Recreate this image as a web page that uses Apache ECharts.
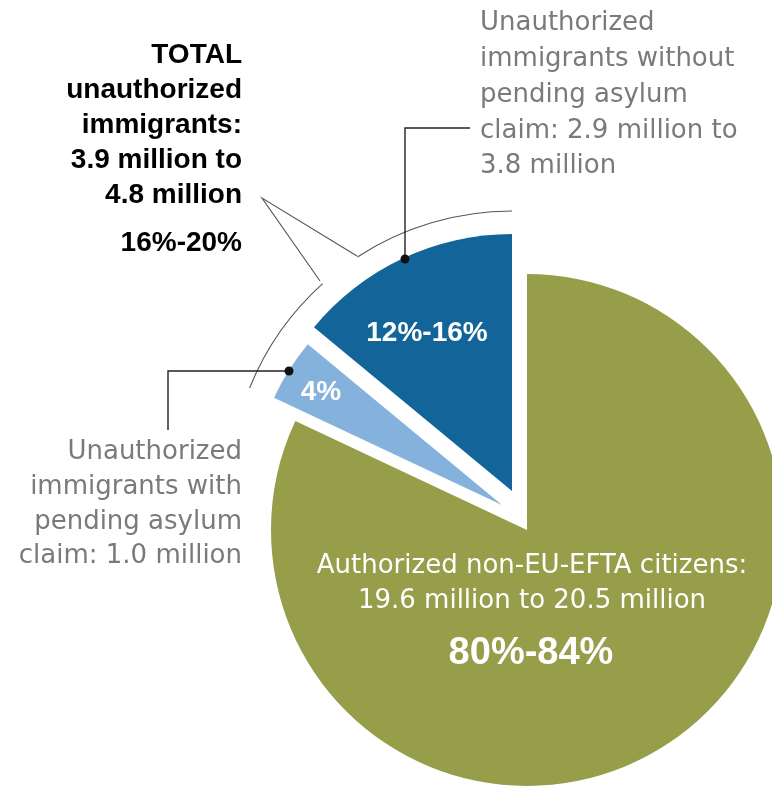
<!DOCTYPE html>
<html><head><meta charset="utf-8">
<script src="https://cdn.jsdelivr.net/npm/echarts@6/dist/echarts.min.js"></script>
<style>html,body{margin:0;padding:0;background:#fff}#c{width:772px;height:787px}</style>
</head><body><div id="c"></div>
<script>
// ---- data ----
const categories = ['Authorized non-EU-EFTA citizens', 'Unauthorized immigrants with pending asylum claim', 'Unauthorized immigrants without pending asylum claim'];
const shareMidpoints = [82, 4, 14];           // midpoints of 80%-84%, 4%, 12%-16%
const shareLabels = ['80%-84%', '4%', '12%-16%'];
const totalShareLabel = '16%-20%';
const authorizedLines = ['Authorized non-EU-EFTA citizens:', '19.6 million to 20.5 million'];
const withAsylumLines = ['Unauthorized', 'immigrants with', 'pending asylum', 'claim: 1.0 million'];
const withoutAsylumLines = ['Unauthorized', 'immigrants without', 'pending asylum', 'claim: 2.9 million to', '3.8 million'];
const totalLines = ['TOTAL', 'unauthorized', 'immigrants:', '3.9 million to', '4.8 million'];

// ---- style ----
const colors = ['#969E4A', '#85B2DD', '#136599'];
const pieCenters = [[527, 530], [502, 505], [512, 491]];
const pieRadii = [256, 252, 257];
const GRAY = '#7a7a7a';
const REG = '"DejaVu Sans", sans-serif';
const BOLD = '"Liberation Sans", Arial, sans-serif';

const series = colors.map((col, i) => ({
  type: 'pie',
  center: pieCenters[i],
  radius: pieRadii[i],
  startAngle: 90,
  clockwise: true,
  silent: true,
  animation: false,
  z: 2,
  label: { show: false },
  labelLine: { show: false },
  emphasis: { disabled: true },
  itemStyle: { borderWidth: 0 },
  data: categories.map((c, j) => ({
    name: c,
    value: shareMidpoints[j],
    itemStyle: { color: j === i ? col : 'rgba(0,0,0,0)' }
  }))
}));

const graphic = [];
function block(lines, x, y0, lh, font, fill, align) {
  lines.forEach((t, k) => graphic.push({
    type: 'text', silent: true, z: 100,
    style: { text: t, x: x, y: y0 + k * lh, font: font, fill: fill, textAlign: align, textVerticalAlign: 'middle' }
  }));
}
const rad = d => d * Math.PI / 180;
// bracket arc around unauthorized slices
const arcC = [512, 494], arcR = 283;
graphic.push({ type: 'arc', silent: true, z: 100, shape: { cx: arcC[0], cy: arcC[1], r: arcR, startAngle: rad(-123.1), endAngle: rad(-90) }, style: { fill: 'none', stroke: '#555', lineWidth: 1.1 } });
graphic.push({ type: 'arc', silent: true, z: 100, shape: { cx: arcC[0], cy: arcC[1], r: arcR, startAngle: rad(-158), endAngle: rad(-132) }, style: { fill: 'none', stroke: '#555', lineWidth: 1.1 } });
graphic.push({ type: 'polyline', silent: true, z: 100, shape: { points: [[357, 256], [262, 198], [320, 281]] }, style: { fill: 'none', stroke: '#555', lineWidth: 1.1 } });
// leader lines
graphic.push({ type: 'polyline', silent: true, z: 100, shape: { points: [[470, 128], [405, 128], [405, 259]] }, style: { fill: 'none', stroke: '#222', lineWidth: 1.4 } });
graphic.push({ type: 'circle', silent: true, z: 101, shape: { cx: 405, cy: 259, r: 4.5 }, style: { fill: '#111' } });
graphic.push({ type: 'polyline', silent: true, z: 100, shape: { points: [[289, 371], [168, 371], [168, 430]] }, style: { fill: 'none', stroke: '#222', lineWidth: 1.4 } });
graphic.push({ type: 'circle', silent: true, z: 101, shape: { cx: 289, cy: 371, r: 4.5 }, style: { fill: '#111' } });

// texts
block(totalLines, 242, 55, 35, 'bold 28px ' + BOLD, '#000', 'right');
block([totalShareLabel], 242, 243, 35, 'bold 28px ' + BOLD, '#000', 'right');
block(withoutAsylumLines, 480, 23.5, 35.8, '26px ' + REG, GRAY, 'left');
block(withAsylumLines, 242, 452.5, 34.7, '26px ' + REG, GRAY, 'right');
block(authorizedLines, 532, 566, 35.5, '26px ' + REG, '#fff', 'center');
block([shareLabels[0]], 531, 653.5, 0, 'bold 38px ' + BOLD, '#fff', 'center');
block([shareLabels[2]], 427, 333, 0, 'bold 28px ' + BOLD, '#fff', 'center');
block([shareLabels[1]], 321, 392, 0, 'bold 28px ' + BOLD, '#fff', 'center');

const chart = echarts.init(document.getElementById('c'), null, { renderer: 'canvas' });
chart.setOption({ animation: false, backgroundColor: '#fff', series: series, graphic: graphic });
</script>
</body></html>
